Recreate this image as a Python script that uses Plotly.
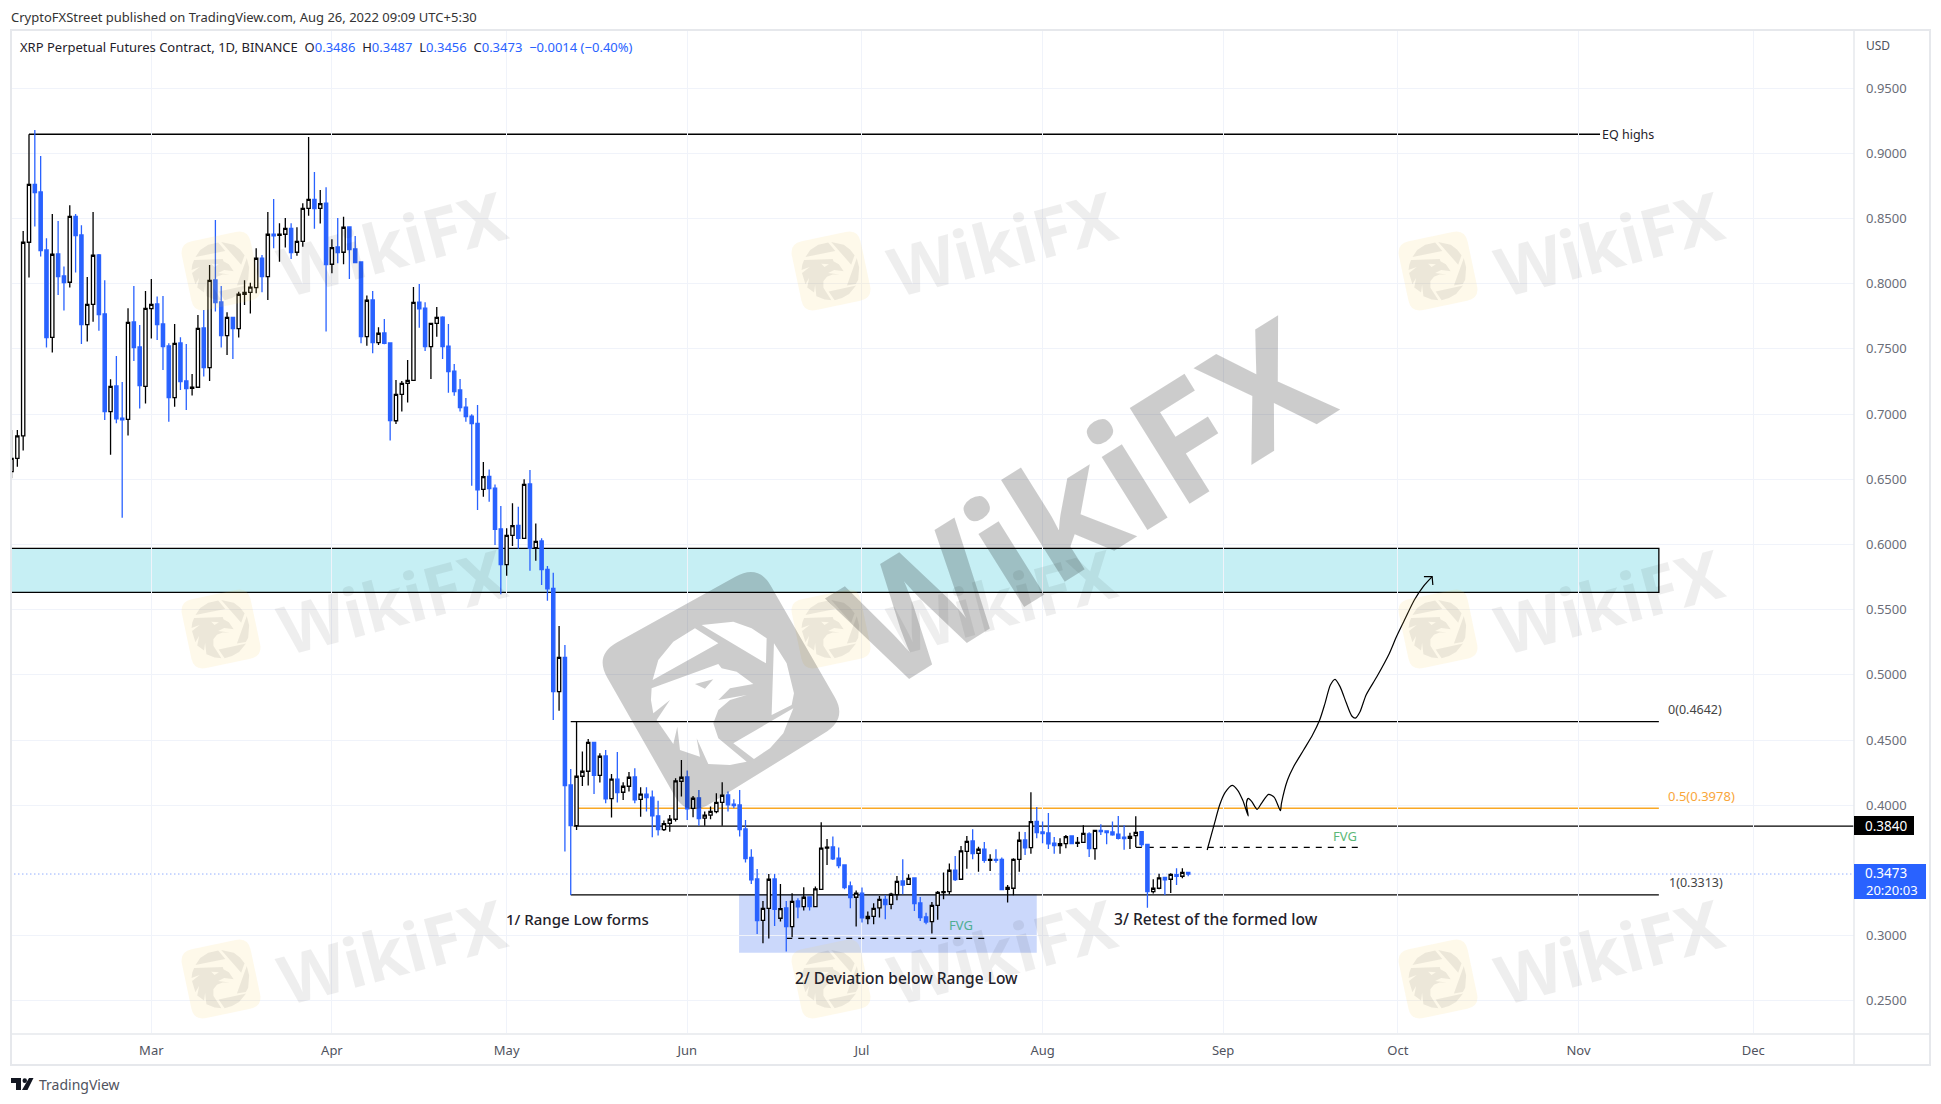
import pandas as pd
import plotly.graph_objects as go
import math

# daily OHLC, first bar is Feb 5 2022
first_day = "2022-02-05"
opens = [
    .6559, .6661, .6833, .8318, .8762, .8704, .8259, .7589, .8228, .8059, .8011, .8517,
    .8374, .7686, .7842, .8220, .7768, .7019, .7216, .6968, .6960, .7707, .7515, .7213,  # feb
    .7809, .7845, .7691, .7523, .7126, .7546, .7254, .7198, .7206, .7661, .7356, .8029, .7860, .7602, .7742, .7656,
    .7919, .7934, .7970, .8195, .8054, .8379, .8371, .8379, .8425, .8241, .8325, .8578, .8647, .8578, .8617,  # mar
    .8149, .8282, .8241, .8435, .8266, .8167, .7594, .7875, .7548, .7622, .7546, .6949, .7151, .7236, .7259,
    .7859, .7813, .7517, .7696, .7744, .7522, .7330, .7185, .7054, .6985, .6929, .6423, .6523, .6433, .6119,  # apr
    .5845, .6070, .6147, .6047, .6464, .5976, .6027, .5809, .5664, .4872, .5135, .4156, .3844, .4223, .4261, .4483,
    .4230, .4379, .4051, .4200, .4100, .4146, .4218, .4046, .4085, .4062, .3919, .3814, .3862, .3893, .4184,  # may
    .4218, .3977, .4057, .3901, .3924, .3952, .4023, .4079, .4008, .4003, .3819, .3601, .3435, .3118, .3210,
    .3435, .3134, .3213, .3070, .3267, .3223, .3297, .3223, .3356, .3671, .3681, .3594, .3543, .3382, .3295,  # jun
    .3326, .3131, .3149, .3213, .3279, .3241, .3315, .3420, .3394, .3443, .3251, .3144, .3108, .3233, .3330, .3338,
    .3502, .3433, .3647, .3727, .3632, .3663, .3578, .3586, .3586, .3356, .3364, .3586, .3734, .3675, .3877,  # jul
    .3796, .3788, .3709, .3691, .3706, .3765, .3709, .3716, .3780, .3668, .3808, .3803, .3796, .3778, .3755,
    .3747, .3767, .3798, .3701, .3338, .3364, .3448, .3433, .3468, .3456, .3486,  # aug
]
highs = [
    .6879, .6879, .8404, .9146, .9179, .8980, .8348, .8535, .8481, .8131, .8601, .8535,
    .8448, .8052, .8550, .8228, .8026, .7267, .7446, .7247, .7811, .7983, .7684, .7944,
    .8036, .7901, .7906, .7543, .7691, .7589, .7538, .7308, .7760, .7799, .8144, .8489, .7983, .7781, .7742, .7939,
    .8026, .8008, .8272, .8220, .8550, .8650, .8463, .8504, .8463, .8433, .8617, .9125, .8857, .8719, .8739,
    .8341, .8504, .8514, .8438, .8366, .8167, .7909, .7944, .7666, .7730, .7546, .7261, .7254, .7415, .7974,
    .7997, .7857, .7696, .7821, .7750, .7691, .7384, .7269, .7123, .6998, .7070, .6633, .6576, .6461, .6295,
    .6124, .6316, .6290, .6500, .6571, .6162, .6047, .5835, .5784, .5375, .5230, .4279, .4642, .4412, .4509, .4483,
    .4399, .4425, .4241, .4409, .4177, .4256, .4284, .4138, .4138, .4113, .4034, .3883, .3926, .4207, .4348,
    .4266, .4072, .4118, .3952, .3990, .4092, .4177, .4105, .4046, .4118, .3888, .3663, .3512, .3267, .3474,
    .3474, .3397, .3267, .3326, .3287, .3372, .3300, .3377, .3870, .3742, .3760, .3676, .3543, .3415, .3346,
    .3369, .3185, .3249, .3305, .3310, .3330, .3458, .3586, .3471, .3443, .3297, .3177, .3259, .3343, .3484, .3553,
    .3612, .3688, .3765, .3816, .3683, .3719, .3624, .3663, .3599, .3389, .3594, .3798, .3796, .4100, .3987,
    .3875, .3941, .3757, .3747, .3773, .3765, .3757, .3847, .3793, .3808, .3854, .3803, .3875, .3918, .3847,
    .3790, .3916, .3803, .3701, .3433, .3476, .3453, .3479, .3517, .3517, .3487,
]
lows = [
    .6508, .6597, .6720, .8047, .8438, .8208, .7510, .7472, .7914, .7794, .7970, .8085,
    .7538, .7556, .7709, .7640, .6955, .6689, .6930, .6206, .6835, .7408, .7042, .7081,
    .7579, .7569, .7339, .6942, .7057, .7185, .7032, .7142, .7203, .7288, .7254, .7786, .7510, .7454, .7423, .7587,
    .7837, .7771, .7927, .7934, .7875, .8272, .8169, .8277, .8190, .8215, .8284, .8522, .8422, .8461, .7633,
    .8080, .8157, .8149, .8036, .8157, .7543, .7525, .7466, .7530, .7535, .6797, .6924, .7019, .7088, .7259,
    .7663, .7484, .7269, .7594, .7422, .7164, .7141, .7019, .6942, .6451, .6265, .6367, .6328, .5996, .5618,
    .5761, .5988, .5968, .6047, .5799, .5876, .5689, .5569, .4654, .4726, .3645, .3313, .3811, .4149, .4151, .4087,
    .4174, .4016, .3906, .4021, .4041, .4105, .4016, .3913, .3952, .3755, .3768, .3803, .3798, .3875, .4067,
    .3888, .3908, .3844, .3844, .3893, .3939, .3844, .3952, .3977, .3760, .3561, .3397, .3014, .2942, .2978,
    .3075, .3108, .2878, .2988, .3134, .3193, .3193, .3218, .3351, .3543, .3581, .3517, .3356, .3210, .3070,
    .3101, .3088, .3088, .3139, .3126, .3203, .3272, .3318, .3389, .3190, .3113, .3088, .3016, .3123, .3279, .3318,
    .3420, .3428, .3514, .3586, .3491, .3560, .3497, .3560, .3348, .3254, .3310, .3491, .3619, .3629, .3747,
    .3709, .3665, .3629, .3629, .3670, .3701, .3681, .3711, .3604, .3583, .3773, .3701, .3767, .3737, .3660,
    .3665, .3681, .3681, .3215, .3323, .3356, .3312, .3328, .3389, .3440, .3456,
]
closes = [
    .6661, .6833, .8318, .8762, .8698, .8254, .7587, .8226, .8054, .8008, .8517, .8369,
    .7686, .7842, .8218, .7763, .7019, .7213, .6963, .6955, .7704, .7510, .7219, .7811,
    .7842, .7686, .7518, .7126, .7543, .7249, .7196, .7206, .7658, .7356, .8026, .7855, .7602, .7742, .7656, .7919,
    .7934, .7973, .8195, .8054, .8379, .8366, .8379, .8425, .8238, .8325, .8578, .8647, .8576, .8614, .8146,
    .8277, .8238, .8433, .8261, .8162, .7594, .7873, .7548, .7620, .7543, .6950, .7151, .7236, .7259, .7857,
    .7808, .7517, .7696, .7742, .7517, .7325, .7172, .7049, .6980, .6927, .6420, .6520, .6428, .6116, .5845,
    .6070, .6144, .6047, .6461, .5971, .6024, .5807, .5659, .4872, .5135, .4151, .3844, .4223, .4261, .4483, .4230,
    .4376, .4049, .4200, .4097, .4146, .4215, .4041, .4085, .4059, .3919, .3814, .3860, .3893, .4187, .4215,
    .3972, .4054, .3898, .3924, .3954, .4023, .4077, .4003, .3998, .3814, .3591, .3428, .3116, .3210, .3433,
    .3203, .3208, .3070, .3264, .3221, .3295, .3223, .3359, .3671, .3679, .3589, .3538, .3369, .3292, .3326,
    .3136, .3149, .3210, .3279, .3238, .3318, .3417, .3389, .3440, .3246, .3139, .3105, .3233, .3333, .3338, .3502,
    .3430, .3650, .3724, .3629, .3663, .3578, .3586, .3578, .3353, .3371, .3586, .3732, .3673, .3875, .3790,
    .3783, .3704, .3691, .3706, .3760, .3706, .3716, .3785, .3668, .3808, .3798, .3790, .3773, .3747, .3744,
    .3762, .3793, .3698, .3338, .3364, .3443, .3428, .3471, .3456, .3486, .3473,
]

last_price = 0.3473
month_days = ["2022-03-01", "2022-04-01", "2022-05-01", "2022-06-01", "2022-07-01",
              "2022-08-01", "2022-09-01", "2022-10-01", "2022-11-01", "2022-12-01"]
month_labels = ["Mar", "Apr", "May", "Jun", "Jul", "Aug", "Sep", "Oct", "Nov", "Dec"]
price_ticks = [0.25, 0.30, 0.40, 0.45, 0.50, 0.55, 0.60, 0.65, 0.70, 0.75, 0.80, 0.85, 0.90, 0.95]

# drawings, days are counted from Mar 1
eq_high = [0.9146, -21, 248.7]
fib_0 = [0.4642, 72, 258.8]
fib_05 = [0.3978, 73.3, 258.8]
fib_1 = [0.3313, 72, 258.8]
resistance = [0.3840, 72.5, 320]
fvg_low = [0.2980, 109, 143.5]
fvg_high = [0.3678, 169, 207.5]
supply_zone = [0.5970, 0.5633, -40, 258.8]
deviation_zone = [0.3320, 0.2870, 100.9, 152]

brush_days = [181.26, 182.36, 183.40, 184.32, 185.55, 186.47, 187.39, 188.31, 188.00, 188.31, 188.92, 189.84,
              190.58, 191.80, 192.78, 193.83, 194.01, 195.05, 196.09, 197.81, 199.34, 200.57, 201.49, 202.41,
              203.21, 204.07, 205.17, 206.09, 206.70, 207.50, 208.54, 210.38, 212.53, 213.75, 215.28, 216.82,
              218.35, 219.88]
brush_prices = [.3657, .3836, .4002, .4097, .4153, .4117, .4036, .3918, .4015, .4053, .4028, .3969,
                .4015, .4084, .4061, .3959, .4015, .4194, .4296, .4424, .4539, .4654, .4782, .4922,
                .4966, .4910, .4782, .4685, .4669, .4718, .4846, .4986, .5165, .5293, .5434, .5574,
                .5677, .5753]
arrow_days = [218.47, 219.88, 220.0]
arrow_prices = [.5753, .5753, .5689]

W, H = 1941, 1104
ML, MR, MT, MB = 11, 87, 30, 71
BLUE = "#2962ff"
TEXT = "#1f222b"
FONT = "Noto Sans"


def day(d):
    return pd.Timestamp("2022-03-01") + pd.to_timedelta(d, unit="D")


def px(x):
    return (x - ML) / (W - ML - MR)


def py(y):
    return (H - MB - y) / (H - MT - MB)


shapes = []
annotations = []


def level_shape(level, color="black", dash="solid", width=1.3):
    shapes.append(dict(type="line", xref="x", yref="y", layer="below",
                       x0=str(day(level[1])), x1=str(day(level[2])), y0=level[0], y1=level[0],
                       line=dict(color=color, width=width, dash=dash)))


def zone_shape(zone, fill, line):
    shapes.append(dict(type="rect", xref="x", yref="y", layer="below",
                       x0=str(day(zone[2])), x1=str(day(zone[3])), y0=zone[1], y1=zone[0],
                       fillcolor=fill, line=line))


zone_shape(supply_zone, "#c6eff4", dict(color="black", width=1.3))
zone_shape(deviation_zone, "#cbd8fb", dict(width=0))
level_shape([last_price, -40, 320], color="rgba(41,98,255,0.75)", dash="1px,3px", width=1)
for lvl in [eq_high, fib_0, fib_1, resistance]:
    level_shape(lvl)
level_shape(fib_05, color="#f9a825", width=1.5)
level_shape(fvg_low, dash="6px,6px")
level_shape(fvg_high, dash="6px,6px")

fig = go.Figure()
fig.add_trace(go.Candlestick(
    x=pd.date_range(first_day, periods=len(opens)),
    open=opens, high=highs, low=lows, close=closes,
    increasing=dict(line=dict(color="black", width=1.3), fillcolor="white"),
    decreasing=dict(line=dict(color=BLUE, width=1.3), fillcolor=BLUE),
    whiskerwidth=0, hoverinfo="skip",
))

fig.add_trace(go.Scatter(x=[day(d) for d in brush_days], y=brush_prices, mode="lines",
                         line=dict(color="black", width=1.2, shape="spline", smoothing=0.7), hoverinfo="skip"))
fig.add_trace(go.Scatter(x=[day(d) for d in arrow_days], y=arrow_prices, mode="lines",
                         line=dict(color="black", width=1.2), hoverinfo="skip"))


# watermark drawing helpers, pixel space of the page
def place(pts, cx, cy, scale, angle=0.0):
    a = math.radians(angle)
    out = []
    for x, y in pts:
        dx, dy = (x - 400) * scale, (y - 400) * scale
        out.append((cx + dx * math.cos(a) - dy * math.sin(a), cy + dx * math.sin(a) + dy * math.cos(a)))
    return out


def poly(pts):
    return "M" + " L".join(f"{px(x):.5f},{py(y):.5f}" for x, y in pts) + " Z "


def rounded(pts, f=0.2):
    d = ""
    n = len(pts)
    for i, p in enumerate(pts):
        a, b = pts[i - 1], pts[(i + 1) % n]
        s = (p[0] + (a[0] - p[0]) * f, p[1] + (a[1] - p[1]) * f)
        e = (p[0] + (b[0] - p[0]) * f, p[1] + (b[1] - p[1]) * f)
        d += ("M" if i == 0 else "L") + f"{px(s[0]):.5f},{py(s[1]):.5f} "
        d += f"Q{px(p[0]):.5f},{py(p[1]):.5f} {px(e[0]):.5f},{py(e[1]):.5f} "
    return d + "Z "


badge = [(13, 285), (505, 12), (772, 477), (292, 774)]
logo_parts = [
    [(335, 195), (430, 185), (485, 205), (530, 235), (528, 310)],
    [(315, 205), (385, 250), (188, 360), (205, 300), (250, 245)],
    [(552, 250), (590, 310), (612, 400), (605, 435), (545, 465)],
    [(610, 445), (580, 520), (540, 565), (492, 597), (430, 550)],
    [(185, 385), (385, 312), (395, 325), (440, 335), (490, 372), (420, 385), (385, 420), (470, 405),
     (420, 420), (385, 450), (370, 490), (385, 535), (470, 605), (420, 615), (355, 612), (320, 535),
     (330, 590), (270, 570), (262, 500), (250, 552), (200, 480), (240, 420), (190, 460), (183, 420)],
    [(315, 372), (370, 358), (345, 386)],
]


def shape_path(d, color):
    return dict(type="path", xref="paper", yref="paper", path=d, fillcolor=color,
                line=dict(width=0), layer="above")


def label(x, y, text, anchor="left", color=TEXT, size=13, **kw):
    annotations.append(dict(xref="paper", yref="paper", x=px(x), y=py(y), text=text, showarrow=False,
                            xanchor=anchor, yanchor="middle", font=dict(family=FONT, size=size, color=color, **kw)))


# small repeated watermarks
for cx in [395, 1005, 1612]:
    for cy in [242, 600, 950]:
        annotations.append(dict(xref="paper", yref="paper", x=px(cx - 3), y=py(cy), text="WikiFX", showarrow=False,
                                textangle=-15, xanchor="center", yanchor="middle",
                                font=dict(family=FONT, size=68, weight=700, color="rgba(0,0,0,0.065)")))
        lx, ly = cx - 174, cy + 29
        gold = place([(400 - 260, 400 - 260), (400 + 260, 400 - 260), (400 + 260, 400 + 260), (400 - 260, 400 + 260)],
                     lx, ly, 0.135, -12)
        shapes.append(shape_path(rounded(gold, 0.18), "rgba(250,205,90,0.13)"))
        d = "".join(poly(place(p, lx, ly, 0.135, 18)) for p in logo_parts)
        shapes.append(shape_path(d, "rgba(0,0,0,0.07)"))

# big center watermark
big = rounded(place(badge, 723.3, 693.3, 1 / 3), 0.14)
big += "".join(poly(place(p, 723.3, 693.3, 1 / 3)) for p in logo_parts)
shapes.append(shape_path(big, "rgba(0,0,0,0.2)"))
annotations.append(dict(xref="paper", yref="paper", x=px(1080), y=py(499), text="WikiFX", showarrow=False,
                        textangle=-32, xanchor="center", yanchor="middle",
                        font=dict(family=FONT, size=158, weight=700, color="rgba(0,0,0,0.2)")))

# frame of the chart and the axis strips
frame = "#e6e8ec"
shapes += [
    dict(type="rect", xref="paper", yref="paper", x0=px(11), x1=px(1930), y0=py(1065), y1=py(30),
         line=dict(color=frame, width=2), layer="above"),
    dict(type="line", xref="paper", yref="paper", x0=px(1854), x1=px(1854), y0=py(1065), y1=py(30),
         line=dict(color=frame, width=1.5), layer="above"),
    dict(type="line", xref="paper", yref="paper", x0=px(11), x1=px(1930), y0=py(1034), y1=py(1034),
         line=dict(color=frame, width=1.5), layer="above"),
    dict(type="rect", xref="paper", yref="paper", x0=px(1854), x1=px(1914), y0=py(835), y1=py(816),
         fillcolor="black", line=dict(width=0), layer="above"),
    dict(type="rect", xref="paper", yref="paper", x0=px(1854), x1=px(1926), y0=py(899), y1=py(864),
         fillcolor=BLUE, line=dict(width=0), layer="above"),
]

# TradingView mark
shapes.append(shape_path(
    poly([(11, 1078), (21, 1078), (21, 1090), (16, 1090), (16, 1083), (11, 1083)])
    + poly([(29, 1078), (33.5, 1078), (27.5, 1090), (22, 1090)]), "#131722"))
shapes.append(dict(type="circle", xref="paper", yref="paper", x0=px(22.5), x1=px(27), y0=py(1083), y1=py(1078.3),
                   fillcolor="#131722", line=dict(width=0), layer="above"))

label(9, 17, "CryptoFXStreet published on TradingView.com, Aug 26, 2022 09:09 UTC+5:30", size=13, color="#333333")
v = f'<span style="color:{BLUE}">%s</span>'
label(18, 47, "XRP Perpetual Futures Contract, 1D, BINANCE  O" + v % "0.3486" + "  H" + v % "0.3487" + "  L"
      + v % "0.3456" + "  C" + v % "0.3473" + "  " + v % "\u22120.0014 (\u22120.40%)", size=13)
label(1864, 46, "USD", size=12, color="#50535e")
label(37, 1084, "TradingView", size=14, color="#50535e")

label(1600, 134, "EQ highs", size=12.5)
label(1666, 709, "0(0.4642)", size=12.5, color="#444444")
label(1666, 796, "0.5(0.3978)", size=13, color="#f9a63a")
label(1667, 882, "1(0.3313)", size=12.5, color="#444444")
label(1344.6, 835.5, "FVG", anchor="center", size=13, color="#5cb878")
label(961, 925, "FVG", anchor="center", size=13, color="#4fae92")
label(577, 919, "1/ Range Low forms", anchor="center", size=15, weight=500)
label(906, 978, "2/ Deviation below Range Low", anchor="center", size=15.5, weight=500)
label(1216, 919, "3/ Retest of the formed low", anchor="center", size=15.6, weight=500)
label(1886, 825.5, "0.3840", anchor="center", color="white", size=13.5)
label(1886, 873, "0.3473", anchor="center", color="white", size=13.5)
label(1892, 890, "20:20:03", anchor="center", color="white", size=13)

fig.update_layout(
    width=W, height=H, margin=dict(l=ML, r=MR, t=MT, b=MB, pad=0),
    paper_bgcolor="white", plot_bgcolor="white", showlegend=False,
    boxgap=0.2,
    shapes=shapes, annotations=annotations,
    xaxis=dict(
        type="date", range=[day(-24.09), day(292.3)], rangeslider=dict(visible=False),
        tickmode="array", tickvals=month_days, ticktext=month_labels, showgrid=True,
        gridcolor="#f0f3fa", gridwidth=1, zeroline=False, showline=False, ticks="",
        tickfont=dict(family=FONT, size=13, color="#50535e"), ticklabelstandoff=8,
    ),
    yaxis=dict(
        side="right", range=[0.22539, 0.99455], tickmode="array", tickvals=price_ticks,
        ticktext=[f"{t:.4f}" for t in price_ticks], showgrid=True, gridcolor="#f0f3fa", gridwidth=1,
        zeroline=False, showline=False, ticks="",
        tickfont=dict(family=FONT, size=13, color="#6a6d78"), ticklabelstandoff=11,
    ),
)

fig.write_html("out.html", config=dict(displayModeBar=False),
               post_script="document.body.style.margin='0';document.body.style.overflow='hidden';")
